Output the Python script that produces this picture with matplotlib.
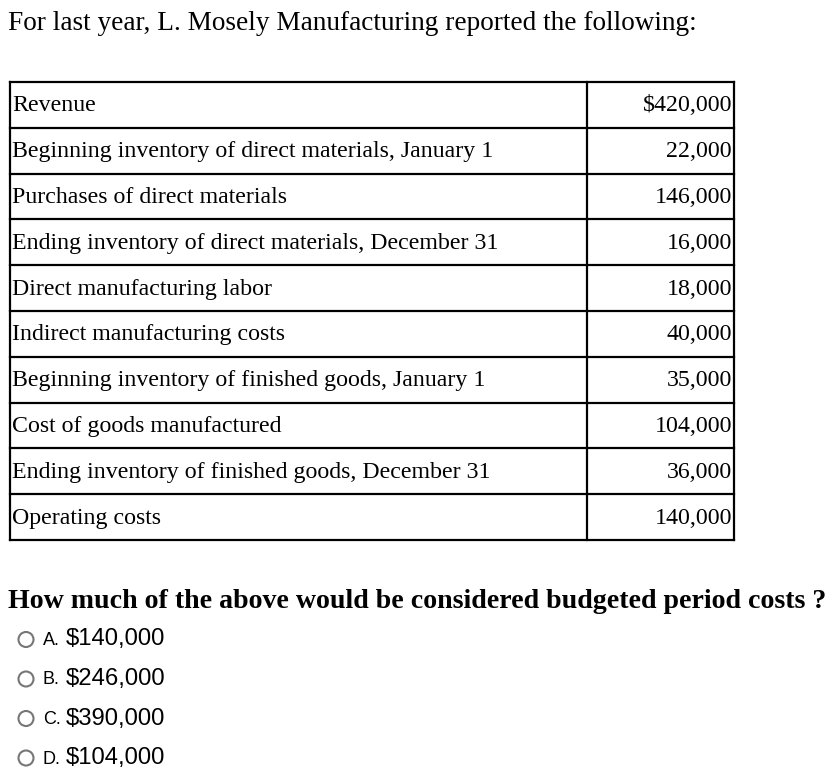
import matplotlib
matplotlib.use("Agg")
import matplotlib.pyplot as plt
from matplotlib.patches import Circle

title = "For last year, L. Mosely Manufacturing reported the following:"
items = [
    "Revenue",
    "Beginning inventory of direct materials, January 1",
    "Purchases of direct materials",
    "Ending inventory of direct materials, December 31",
    "Direct manufacturing labor",
    "Indirect manufacturing costs",
    "Beginning inventory of finished goods, January 1",
    "Cost of goods manufactured",
    "Ending inventory of finished goods, December 31",
    "Operating costs",
]
amounts = ["$420,000", "22,000", "146,000", "16,000", "18,000",
           "40,000", "35,000", "104,000", "36,000", "140,000"]
question = "How much of the above would be considered budgeted period costs ?"
letters = ["A.", "B.", "C.", "D."]
answers = ["$140,000", "$246,000", "$390,000", "$104,000"]

W, H = 839, 770
fig = plt.figure(figsize=(W / 100, H / 100), dpi=100)
ax = fig.add_axes([0, 0, 1, 1])
ax.set_xlim(0, W)
ax.set_ylim(H, 0)
ax.axis("off")

serif = "Liberation Serif"
sans = "Liberation Sans"

ax.text(8, 23, title, fontsize=19.6, family=serif, va="center", ha="left")

# table
left, right, mid = 10, 734, 587
top, row_h = 82, 45.8
n = len(items)
bottom = top + n * row_h
lw = 1.6
for i in range(n + 1):
    y = top + i * row_h
    ax.plot([left, right], [y, y], color="black", lw=lw, solid_capstyle="projecting")
for x in (left, mid, right):
    ax.plot([x, x], [top, bottom], color="black", lw=lw, solid_capstyle="projecting")

for i, (lab, val) in enumerate(zip(items, amounts)):
    yc = top + (i + 0.5) * row_h + 1
    ax.text(12, yc, lab, fontsize=17.2, family=serif, va="center", ha="left")
    ax.text(732, yc, val, fontsize=17.2, family=serif, va="center", ha="right")

ax.text(8, 602, question, fontsize=20.1, family=serif, weight="bold",
        va="center", ha="left")

for i, (let, ans) in enumerate(zip(letters, answers)):
    yc = 639.5 + i * 39.5
    ax.add_patch(Circle((26, yc), 7.5, fill=False, ec="#767676", lw=1.5))
    ax.text(43, yc + 1, let, fontsize=13, family=sans, va="center", ha="left")
    ax.text(66, yc, ans, fontsize=17.2, family=sans, va="center", ha="left")

fig.savefig("out.png", dpi=100, facecolor="white")
